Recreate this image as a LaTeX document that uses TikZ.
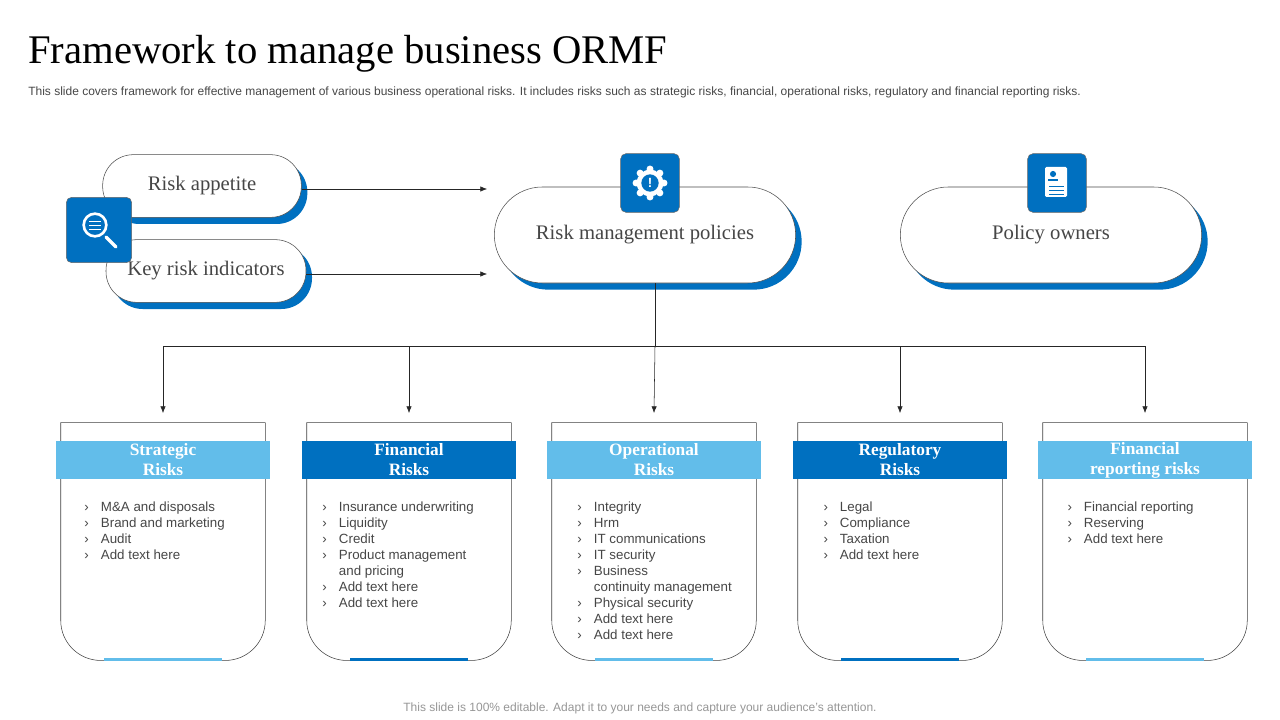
\documentclass[tikz,border=0pt]{standalone}
\usepackage{fontspec}
\setmainfont{Liberation Serif}
\newfontfamily\sansf{Liberation Sans}
\usepackage{tikz}
\usetikzlibrary{positioning,shadows,arrows.meta,calc}
\definecolor{mydarkblue}{RGB}{0,112,192}
\definecolor{mylightblue}{RGB}{98,189,234}
\definecolor{mytextgray}{RGB}{70,70,70}
\definecolor{mylightgray}{RGB}{150,150,150}
\newcommand{\itm}[1]{\makebox[14pt][l]{\,›}#1\\}
\newcommand{\cnt}[1]{\hspace*{14pt}#1\\}
\begin{document}
\begin{tikzpicture}[
  x=0.75pt, y=-0.75pt,
  pill/.style={
    draw=black!70, fill=white, rounded corners=#1,
    font=\fontsize{15.5}{18}\selectfont, text=mytextgray,
    drop shadow={shadow xshift=4.5pt, shadow yshift=-5pt, fill=mydarkblue, opacity=1}
    },
  iconbox/.style={draw=black!60, fill=mydarkblue, rounded corners=4pt,
    minimum width=#1, minimum height=#1},
  riskbox/.style={minimum width=153pt, minimum height=178pt, inner sep=0pt},
  head/.style={fill=#1, text=white, minimum width=160pt, minimum height=28.5pt,
    font=\bfseries\fontsize{13}{15}\selectfont, align=center, inner sep=0pt},
  items/.style={anchor=north west, align=left, inner sep=0pt, text=mytextgray,
    font=\sansf\fontsize{10}{12}\selectfont},
  arr/.style={-{Latex[length=5pt,width=4pt]}, black!85}
]
\useasboundingbox (0,0) rectangle (1280,720);

% title
\node[anchor=base west, inner sep=0pt, font=\fontsize{30.5}{36}\selectfont] (title) at (28,64)
  {Framework to manage business ORMF};
\node[anchor=base west, inner sep=0pt, font=\sansf\fontsize{9}{11}\selectfont, text=mytextgray] (sub) at (28,96)
  {This slide covers framework for effective management of various business operational risks. It includes risks such as strategic risks, financial, operational risks, regulatory and financial reporting risks.};

% top row
\node[pill=23pt, minimum width=149pt, minimum height=47pt] (appetite) at (202,186) {Risk appetite};
\node[pill=23pt, minimum width=150pt, minimum height=47pt] (kri) at (206,271) {Key risk indicators};
\node[pill=36pt, minimum width=226pt, minimum height=72pt] (rmp) at (645,235) {Risk management policies};
\node[pill=36pt, minimum width=226pt, minimum height=72pt] (owners) at (1051,235) {Policy owners};

% icons
\node[iconbox=49pt] (lens) at (99,230) {};
\draw[white, line width=2pt] ($(lens)+(-4,-5)$) circle (8.5pt);
\draw[white, line width=2.5pt, line cap=round] ($(lens)+(7,7)$) -- ($(lens)+(17,17)$);
\foreach \dy in {-9,-5,-1} \draw[white, line width=0.6pt] ($(lens)+(-10,\dy)$) -- ($(lens)+(2,\dy)$);
\node[iconbox=44pt] (gear) at (650,183) {};
\foreach \a in {0,45,...,315}
  \fill[white] ($(gear)+(\a:14)$) circle (2.6pt);
\fill[white] (gear) circle (10pt);
\fill[mydarkblue] (gear) circle (6.5pt);
\node[text=white, font=\bfseries\sansf\fontsize{10}{10}\selectfont, inner sep=0pt] (excl) at (gear) {!};
\node[iconbox=44pt] (doc) at (1057,183) {};
\fill[white, rounded corners=1pt] ($(doc)+(-12,-16)$) rectangle ($(doc)+(10,14)$);
\fill[mydarkblue] ($(doc)+(-4,-9)$) circle (2.3pt);
\fill[mydarkblue] ($(doc)+(-9,-2)$) rectangle ($(doc)+(1,-4)$);
\foreach \dy in {3,7,11} \draw[mydarkblue, line width=0.6pt] ($(doc)+(-8,\dy)$) -- ($(doc)+(7,\dy)$);

% arrows into the policies
\coordinate (ina) at (487,189);
\coordinate (inb) at (487,274);
\draw[arr] (appetite.east |- ina) -- (ina);
\draw[arr] (kri.east |- inb) -- (inb);

% risk boxes
\foreach \name/\cx/\col/\ttl in {
  strat/163/mylightblue/{Strategic\\Risks},
  fin/409/mydarkblue/{Financial\\Risks},
  oper/654/mylightblue/{Operational\\Risks},
  reg/900/mydarkblue/{Regulatory\\Risks},
  frep/1145/mylightblue/{Financial\\reporting risks}}{
  \node[riskbox] (\name) at (\cx,541.5) {};
  \draw[black!75] (\name.north east) -- (\name.north west) [rounded corners=30pt] -- (\name.south west) -- (\name.south east) -- ([yshift=-80pt]\name.north east) [sharp corners] -- (\name.north east);
  \node[head=\col] (\name head) at (\cx,460) {\ttl};
  \fill[\col] ($(\name.south)+(-59,-2)$) rectangle ($(\name.south)+(59,1)$);
  \coordinate (\name top) at (\cx,413);
}

% connectors
\coordinate (split) at (655,346);
\draw[black!85] (rmp.south -| split) -- (split);
\draw[black!85] (strattop |- split) -- (freptop |- split);
\foreach \name in {strat,fin,reg,frep}
  \draw[arr] (\name top |- split) -- (\name top);
\draw[arr] (split) -- (opertop);

% item lists
\node[items] (stratlist) at (82,502) {\itm{M\&A and disposals}\itm{Brand and marketing}\itm{Audit}\itm{Add text here}};
\node[items] (finlist) at (320,502) {\itm{Insurance underwriting}\itm{Liquidity}\itm{Credit}\itm{Product management}\cnt{and pricing}\itm{Add text here}\itm{Add text here}};
\node[items] (operlist) at (575,502) {\itm{Integrity}\itm{Hrm}\itm{IT communications}\itm{IT security}\itm{Business}\cnt{continuity management}\itm{Physical security}\itm{Add text here}\itm{Add text here}};
\node[items] (reglist) at (821,502) {\itm{Legal}\itm{Compliance}\itm{Taxation}\itm{Add text here}};
\node[items] (freplist) at (1065,502) {\itm{Financial reporting}\itm{Reserving}\itm{Add text here}};

% footer
\node[font=\sansf\fontsize{9}{11}\selectfont, text=mylightgray] (foot) at (640,708)
  {This slide is 100\% editable. Adapt it to your needs and capture your audience’s attention.};
\end{tikzpicture}
\end{document}
